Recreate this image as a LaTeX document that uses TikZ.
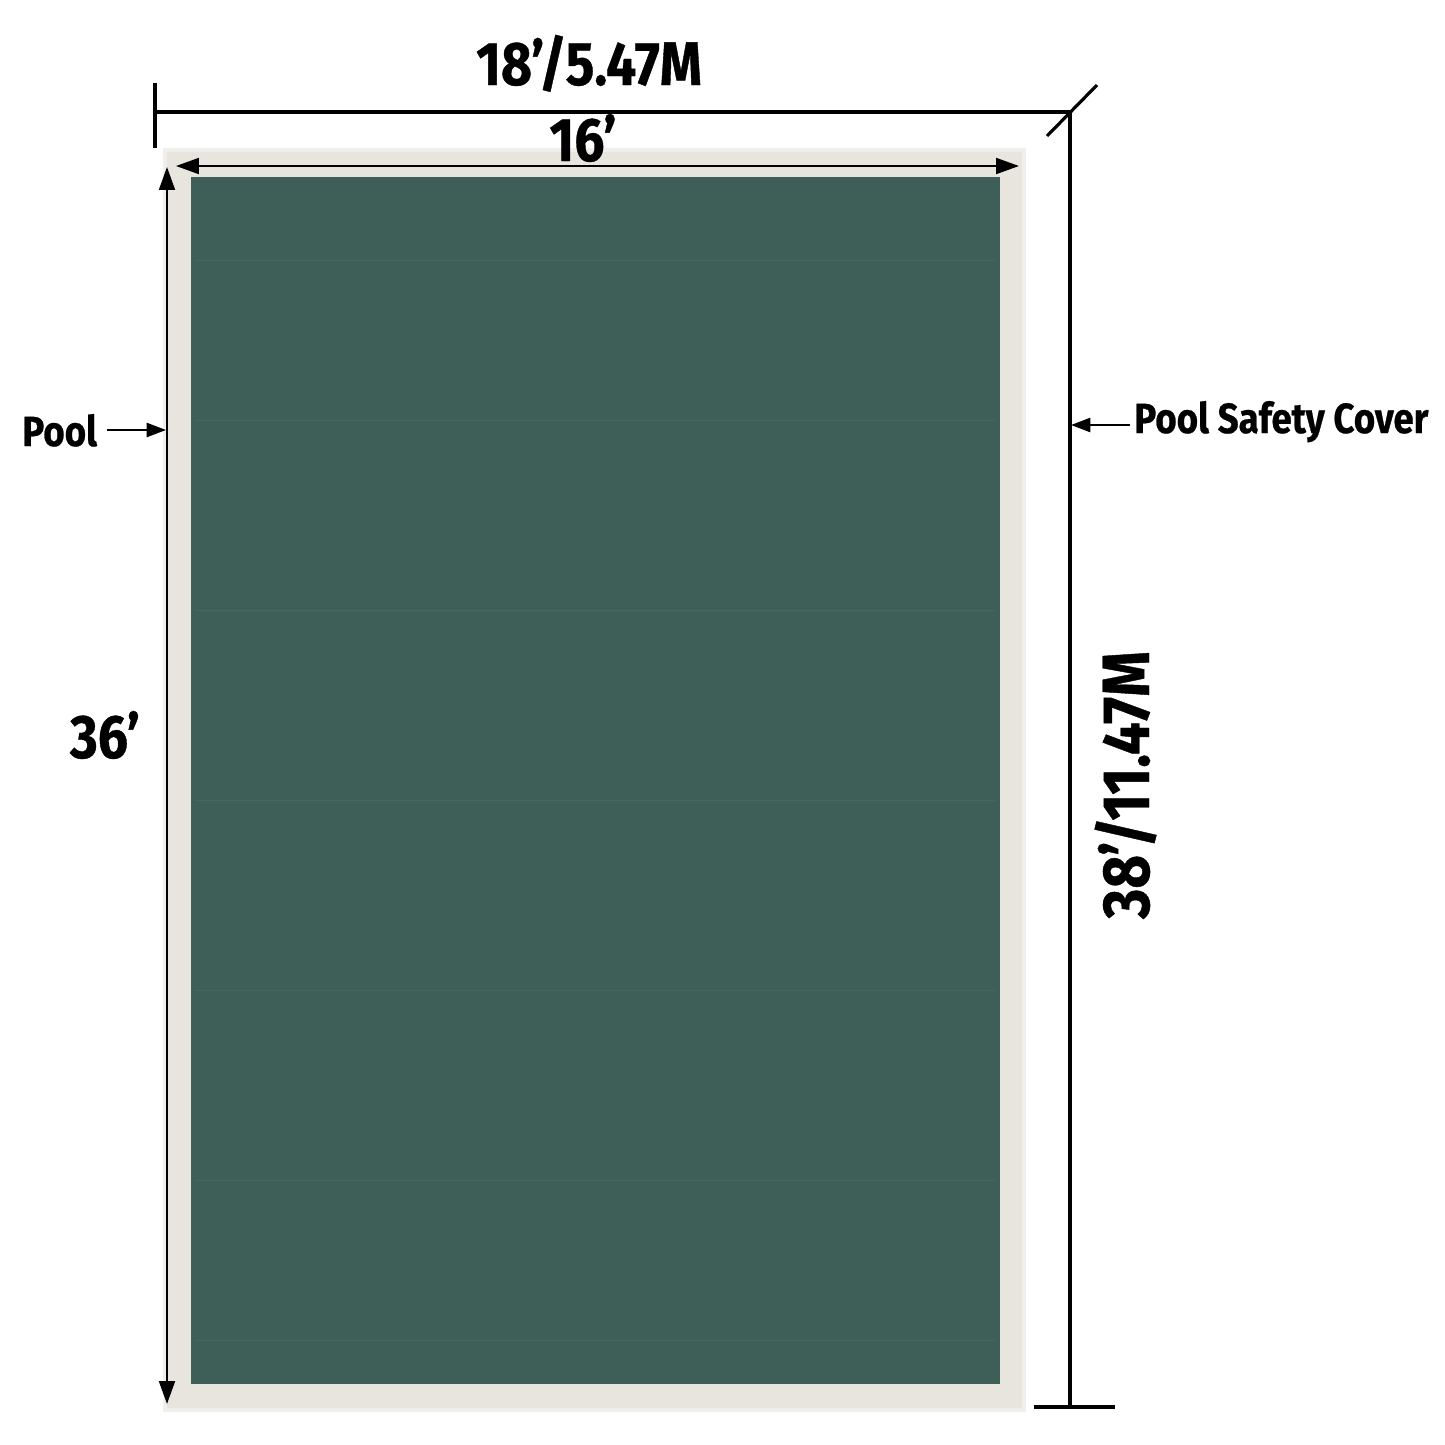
\documentclass[tikz,border=0pt]{standalone}
\usepackage{fontspec}
\usetikzlibrary{arrows.meta}
\setmainfont{Fira Sans}[FakeStretch=0.87,FakeBold=0.6]
\definecolor{covergreen}{RGB}{61,95,88}
\definecolor{rimbeige}{RGB}{232,228,222}

\begin{document}
\begin{tikzpicture}[x=0.02cm,y=-0.02cm,
    dimline/.style={line width=1.8pt},
    dimarrow/.style={line width=1.3pt,{Triangle[length=13pt,width=9pt]}-{Triangle[length=13pt,width=9pt]}},
    callout/.style={line width=1.3pt,-{Triangle[length=11pt,width=8pt]}},
    dimtext/.style={font=\bfseries\fontsize{35}{40}\selectfont,inner sep=0pt,anchor=base},
    nametext/.style={font=\bfseries\fontsize{24}{28}\selectfont,inner sep=0pt,anchor=base west}]
				\useasboundingbox (0,0) rectangle (1445,1445);
				
				% cover and pool
				\fill[rimbeige!60] (163,148) rectangle (1026,1412);
				\fill[rimbeige] (167,152) rectangle (1022,1408);
				\fill[covergreen] (191,177) rectangle (1000,1384);
				\foreach \y in {260,420,610,800,990,1180,1340}
				{
					\draw[covergreen!96!white,line width=0.5pt] (195,\y) -- (996,\y);
				};
				
				% outer dimensions
				\coordinate (tl) at (155,112);
				\coordinate (tr) at (1070,112);
				\coordinate (br) at (1070,1407);
				\draw[dimline] (tl) -- (tr) -- (br);
				\draw[dimline] (155,83) -- (155,148);
				\draw[dimline] (1047,136) -- (1097,85);
				\draw[dimline] (1034,1407) -- (1115,1407);
				
				% inner dimensions
				\coordinate (wl) at (176,166);
				\coordinate (wr) at (1019,166);
				\coordinate (ht) at (167,167);
				\coordinate (hb) at (167,1404);
				\draw[dimarrow] (wl) -- (wr);
				\draw[dimarrow] (ht) -- (hb);
				
				\node[dimtext] (outerw) at (589,85) {18’/5.47M};
				\node[dimtext] (innerw) at (583,161) {16’};
				\node[dimtext] (innerh) at (105,758) {36’};
				\node[dimtext,rotate=90,font=\bfseries\fontsize{38}{44}\selectfont] (outerh) at (1149,785) {38’/11.47M};
				
				% callouts
				\node[nametext] (pool) at (22,446) {Pool};
				\node[nametext] (cover) at (1134,433) {Pool Safety Cover};
				\coordinate (poolend) at (166,430);
				\coordinate (coverend) at (1071,425);
				\draw[callout] (pool.east |- poolend) ++(10,0) -- (poolend);
				\draw[callout] (cover.west |- coverend) ++(-4,0) -- (coverend);
			\end{tikzpicture}
\end{document}
